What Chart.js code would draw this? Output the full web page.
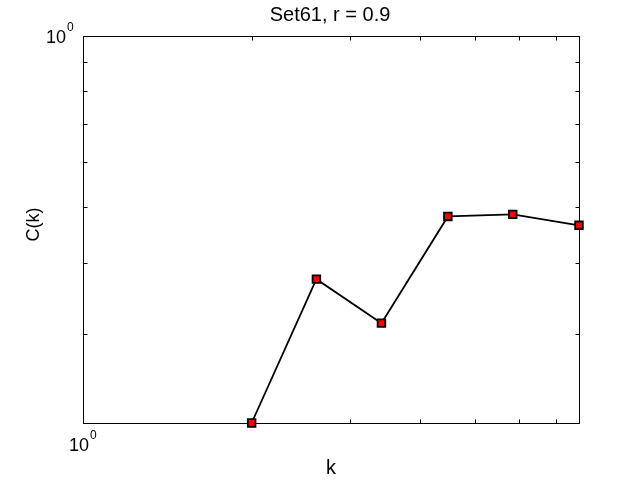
<!DOCTYPE html>
<html>
<head>
<meta charset="utf-8">
<script src="https://cdn.jsdelivr.net/npm/chart.js@4.4.0/dist/chart.umd.min.js"></script>
<style>
  html, body { margin: 0; padding: 0; background: #fff; }
  canvas { display: block; }
</style>
</head>
<body>
<canvas id="chart" width="640" height="480"></canvas>
<script>
// data
const kValues = [2.0, 2.61, 3.41, 4.48, 5.85, 7.68];
const ckValues = [0.209, 0.374, 0.313, 0.482, 0.486, 0.465];

// axis limits and tick marks (only 10^0 is labelled)
const xLimits = [1, 7.68];
const yLimits = [0.209, 1];
const xTicks = [1, 2, 3, 4, 5, 6, 7];
const yTicks = [0.3, 0.4, 0.5, 0.6, 0.7, 0.8, 0.9, 1];

const titleText = "Set61, r = 0.9";
const xLabel = "k";
const yLabel = "C(k)";
const FONT = "'Liberation Sans', Arial, Helvetica, sans-serif";

function drawPow(ctx, x, y) {
    // "10" with a raised "0"
    ctx.font = "18px " + FONT;
    ctx.textAlign = "left";
    ctx.textBaseline = "alphabetic";
    ctx.fillText("10", x, y);
    const w = ctx.measureText("10").width;
    ctx.font = "12px " + FONT;
    ctx.fillText("0", x + w + 1, y - 12);
}

const matlabAxes = {
    id: "matlabAxes",
    beforeDatasetsDraw(chart) {
        const { ctx, chartArea: a, scales } = chart;
        const len = 4;
        const L = Math.round(a.left) + 0.5;
        const R = Math.round(a.right) + 0.5;
        const T = Math.round(a.top) + 0.5;
        const B = Math.round(a.bottom) + 0.5;
        ctx.save();
        ctx.strokeStyle = "#000";
        ctx.lineWidth = 1;
        ctx.beginPath();
        xTicks.forEach((v) => {
            const x = Math.round(scales.x.getPixelForValue(v)) + 0.5;
            ctx.moveTo(x, B);
            ctx.lineTo(x, B - len);
            ctx.moveTo(x, T);
            ctx.lineTo(x, T + len);
        });
        yTicks.forEach((v) => {
            const y = Math.round(scales.y.getPixelForValue(v)) + 0.5;
            ctx.moveTo(L, y);
            ctx.lineTo(L + len, y);
            ctx.moveTo(R, y);
            ctx.lineTo(R - len, y);
        });
        ctx.stroke();
        ctx.strokeRect(L, T, R - L, B - T);
        ctx.restore();
    },
    afterDraw(chart) {
        const { ctx, chartArea: a, scales } = chart;
        ctx.save();
        ctx.fillStyle = "#000";

        // 10^0 labels
        drawPow(ctx, 46, Math.round(scales.y.getPixelForValue(1)) + 7);
        drawPow(ctx, Math.round(scales.x.getPixelForValue(1)) - 14, 451);

        // title
        ctx.font = "20px " + FONT;
        ctx.textAlign = "center";
        ctx.textBaseline = "alphabetic";
        ctx.fillText(titleText, (a.left + a.right) / 2 - 1, 21);

        // x label
        ctx.font = "20px " + FONT;
        ctx.fillText(xLabel, (a.left + a.right) / 2, 474);

        // y label
        ctx.translate(39, (a.top + a.bottom) / 2 - 5);
        ctx.rotate(-Math.PI / 2);
        ctx.font = "18px " + FONT;
        ctx.fillText(yLabel, 0, 0);
        ctx.restore();
    },
};

new Chart(document.getElementById("chart"), {
    type: "line",
    data: {
        datasets: [
            {
                data: kValues.map((k, i) => ({ x: k, y: ckValues[i] })),
                borderColor: "#000",
                borderWidth: 1.8,
                pointStyle: "rect",
                pointRadius: 5.4,
                pointBackgroundColor: "#ff0000",
                pointBorderColor: "#000",
                pointBorderWidth: 1.8,
                tension: 0,
                clip: false,
            },
        ],
    },
    options: {
        responsive: false,
        animation: false,
        layout: { padding: { left: 83, right: 61, top: 36, bottom: 57 } },
        plugins: {
            legend: { display: false },
            tooltip: { enabled: false },
            title: { display: false },
        },
        scales: {
            x: { type: "logarithmic", min: xLimits[0], max: xLimits[1], display: false },
            y: { type: "logarithmic", min: yLimits[0], max: yLimits[1], display: false },
        },
    },
    plugins: [matlabAxes],
});
</script>
</body>
</html>
